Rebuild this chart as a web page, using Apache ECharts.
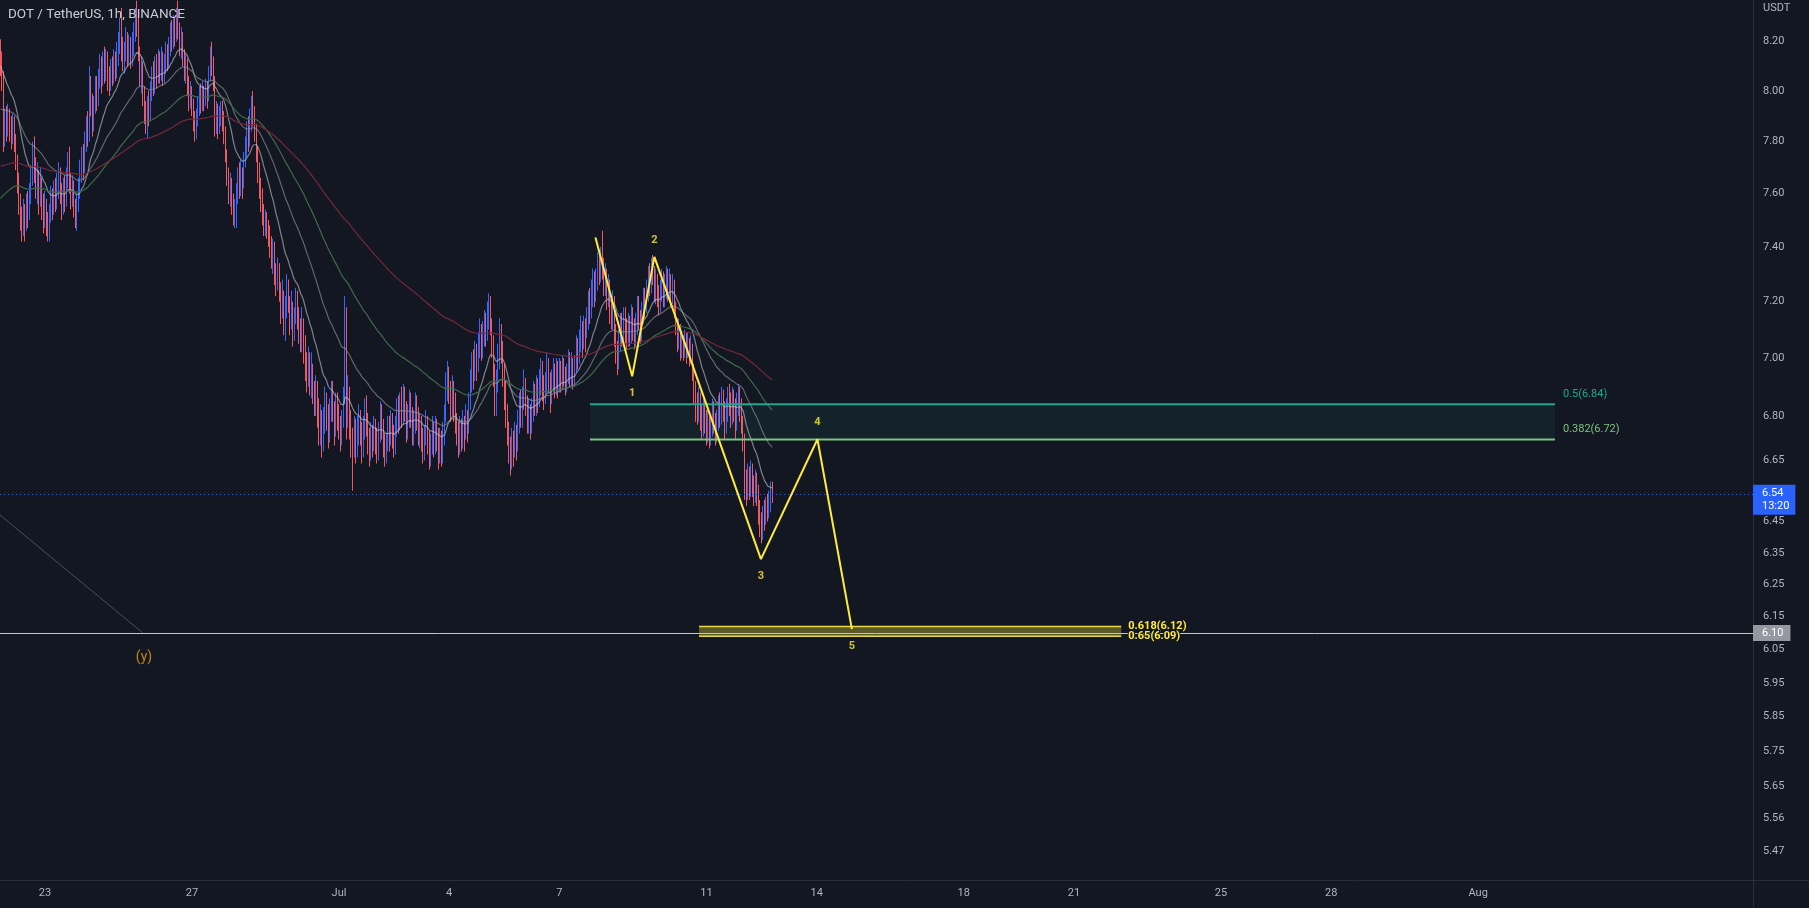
<!DOCTYPE html>
<html><head><meta charset="utf-8">
<script src="https://cdn.jsdelivr.net/npm/echarts@6/dist/echarts.min.js"></script>
<style>html,body{margin:0;padding:0;background:#131722;}#c{width:1809px;height:908px;}</style>
</head><body><div id="c"></div>
<script>
// ---------- DATA ----------
const firstTime = Date.UTC(2022, 5, 21, 19); // first hourly candle
const firstOpen = 8.14;
const closes = [
8.10,8.04,7.80,7.90,7.84,
7.90,7.86,7.82,7.88,7.80,7.72,7.66,7.58,7.50,7.47,7.53,7.48,7.56,7.52,7.60,7.66,7.74,7.70,7.62,7.66,7.58,7.64,7.55,7.50,
7.55,7.48,7.45,7.52,7.58,7.54,7.62,7.57,7.63,7.68,7.60,7.55,7.62,7.58,7.66,7.72,7.64,7.58,7.62,7.55,7.50,7.56,7.62,7.68,
7.74,7.70,7.80,7.86,7.82,8.04,7.96,7.88,7.94,8.02,7.97,8.05,8.10,8.04,8.12,8.08,8.14,8.06,8.02,8.10,8.06,8.13,8.08,8.15,
8.20,8.26,8.18,8.12,8.16,8.22,8.15,8.20,8.14,8.19,8.24,8.30,8.26,8.16,8.06,8.10,7.98,7.92,7.88,7.94,7.90,8.00,8.06,8.02,
8.10,8.06,8.12,8.08,8.14,8.06,8.11,8.17,8.12,8.18,8.24,8.20,8.27,8.22,8.30,8.25,8.18,8.22,8.14,8.08,8.12,8.02,7.96,8.00,
7.94,7.88,7.84,7.90,7.94,7.98,7.95,8.00,7.96,8.02,7.97,8.06,8.14,8.10,8.04,7.88,7.92,7.86,7.90,7.94,7.88,7.84,7.76,7.68,
7.60,7.64,7.56,7.50,7.54,7.60,7.66,7.62,7.68,7.64,7.72,7.78,7.84,7.80,7.88,7.94,7.90,7.84,7.76,7.70,7.62,7.58,7.52,7.48,
7.50,7.46,7.44,7.40,7.36,7.40,7.30,7.26,7.32,7.24,7.18,7.22,7.12,7.16,7.24,7.20,7.14,7.18,7.10,7.14,7.22,7.16,7.10,7.06,
7.12,7.04,6.98,6.94,7.00,6.92,6.96,6.88,6.84,6.90,6.82,6.76,6.80,6.72,6.78,6.86,6.80,6.74,6.82,6.88,6.82,6.76,6.84,6.80,
6.76,6.72,6.78,6.86,7.12,6.80,6.86,6.78,6.72,6.70,6.76,6.70,6.74,6.80,6.75,6.70,6.76,6.82,6.78,6.72,6.68,6.74,6.70,6.76,
6.72,6.68,6.74,6.80,6.76,6.71,6.66,6.70,6.76,6.72,6.78,6.74,6.70,6.76,6.82,6.78,6.84,6.80,6.86,6.82,6.76,6.80,6.85,6.80,
6.74,6.78,6.84,6.80,6.74,6.78,6.72,6.68,6.73,6.78,6.72,6.66,6.70,6.75,6.70,6.76,6.72,6.67,6.72,6.68,6.74,6.80,6.90,6.94,
6.88,6.84,6.90,6.84,6.78,6.74,6.70,6.76,6.72,6.78,6.74,6.80,6.76,6.84,6.92,6.98,6.94,7.02,6.97,7.04,7.10,7.04,7.08,7.14,
7.10,7.16,7.20,7.12,7.06,6.94,6.86,6.92,7.00,7.08,7.04,6.94,6.88,6.80,6.74,6.70,6.66,6.72,6.68,6.74,6.70,6.78,6.84,6.80,
6.86,6.92,6.84,6.78,6.82,6.76,6.82,6.88,6.84,6.90,6.86,6.92,6.96,6.90,6.86,6.92,6.98,6.92,6.86,6.92,6.96,6.90,6.96,6.92,
6.96,6.92,6.98,6.94,6.90,6.95,7.00,6.94,6.98,6.93,6.98,7.04,7.00,7.06,7.10,7.05,7.12,7.08,7.14,7.20,7.16,7.24,7.28,7.22,
7.28,7.34,7.30,7.36,7.32,7.26,7.30,7.22,7.26,7.18,7.14,7.20,7.10,7.02,6.98,7.06,7.12,7.08,7.14,7.10,7.06,7.12,7.08,7.14,
7.10,7.06,7.12,7.18,7.14,7.08,7.16,7.22,7.18,7.24,7.30,7.26,7.32,7.30,7.24,7.28,7.22,7.18,7.24,7.28,7.22,7.26,7.30,7.25,
7.28,7.22,7.26,7.18,7.12,7.06,7.10,7.02,7.06,7.02,7.06,7.02,7.05,7.00,7.04,6.96,6.88,6.84,6.80,6.86,6.80,6.76,6.82,6.78,
6.74,6.78,6.72,6.76,6.82,6.78,6.73,6.78,6.84,6.80,6.86,6.82,6.76,6.82,6.87,6.84,6.80,6.86,6.82,6.78,6.84,6.88,6.82,6.78,
6.72,6.58,6.54,6.60,6.56,6.61,6.57,6.53,6.58,6.54,6.48,6.44,6.42,6.47,6.45,6.50,6.48,6.52,6.56,6.54
];
const highs = [
8.21,8.16,8.08,7.93,7.94,
7.95,7.93,7.90,7.91,7.90,7.83,7.75,7.68,7.60,7.55,7.58,7.56,7.60,7.61,7.64,7.71,7.80,7.82,7.74,7.72,7.69,7.70,7.66,7.60,
7.61,7.58,7.53,7.56,7.63,7.62,7.65,7.66,7.68,7.72,7.70,7.64,7.66,7.67,7.70,7.76,7.78,7.68,7.67,7.65,7.58,7.60,7.66,7.73,
7.78,7.79,7.84,7.90,7.92,8.10,8.06,7.99,7.98,8.06,8.06,8.09,8.15,8.14,8.16,8.18,8.17,8.16,8.10,8.13,8.14,8.17,8.16,8.20,
8.24,8.30,8.34,8.22,8.20,8.26,8.24,8.23,8.22,8.24,8.28,8.34,8.37,8.30,8.18,8.14,8.12,8.02,7.96,7.98,8.00,8.04,8.10,8.12,
8.14,8.15,8.17,8.16,8.18,8.16,8.15,8.20,8.19,8.22,8.28,8.29,8.31,8.30,8.34,8.37,8.28,8.26,8.24,8.17,8.15,8.13,8.06,8.04,
8.02,7.97,7.92,7.93,7.98,8.02,8.03,8.04,8.02,8.05,8.04,8.10,8.18,8.20,8.14,8.06,7.96,7.95,7.94,7.96,7.96,7.92,7.86,7.77,
7.70,7.68,7.66,7.60,7.58,7.64,7.70,7.72,7.73,7.70,7.76,7.82,7.88,7.90,7.93,7.98,8.00,7.94,7.87,7.78,7.72,7.66,7.62,7.56,
7.54,7.53,7.50,7.48,7.44,7.43,7.42,7.34,7.36,7.34,7.27,7.28,7.24,7.22,7.30,7.28,7.22,7.24,7.20,7.18,7.25,7.24,7.18,7.14,
7.18,7.14,7.08,7.02,7.04,7.02,7.02,6.98,6.92,6.94,6.92,6.86,6.84,6.82,6.83,6.90,6.88,6.84,6.86,6.92,6.92,6.85,6.88,6.88,
6.84,6.80,6.82,6.90,7.22,7.18,6.94,6.90,6.82,6.76,6.80,6.79,6.80,6.84,6.82,6.78,6.80,6.86,6.87,6.81,6.76,6.78,6.77,6.80,
6.79,6.76,6.78,6.85,6.84,6.79,6.74,6.74,6.80,6.80,6.82,6.81,6.77,6.80,6.86,6.87,6.88,6.90,6.91,6.90,6.85,6.84,6.89,6.88,
6.83,6.82,6.88,6.87,6.83,6.81,6.80,6.76,6.77,6.82,6.80,6.75,6.74,6.80,6.78,6.80,6.79,6.76,6.76,6.75,6.78,6.84,6.95,6.99,
6.97,6.92,6.94,6.92,6.88,6.81,6.78,6.80,6.79,6.82,6.80,6.84,6.82,6.88,6.96,7.02,7.03,7.06,7.05,7.09,7.14,7.12,7.13,7.17,
7.16,7.20,7.23,7.22,7.14,7.08,6.98,6.96,7.05,7.14,7.12,7.06,6.98,6.92,6.84,6.78,6.73,6.76,6.75,6.78,6.77,6.82,6.88,6.89,
6.90,6.96,6.93,6.87,6.86,6.84,6.86,6.92,6.91,6.94,6.93,6.96,7.00,6.99,6.94,6.95,7.02,7.00,6.95,6.96,7.00,6.98,7.00,6.99,
7.00,6.99,7.01,7.00,6.97,6.98,7.03,7.02,7.02,7.00,7.01,7.08,7.07,7.10,7.15,7.13,7.15,7.14,7.18,7.24,7.25,7.28,7.32,7.31,
7.32,7.38,7.39,7.40,7.46,7.36,7.34,7.32,7.30,7.28,7.22,7.24,7.22,7.12,7.06,7.10,7.16,7.16,7.18,7.18,7.14,7.16,7.15,7.19,
7.18,7.14,7.16,7.22,7.22,7.17,7.20,7.25,7.25,7.28,7.33,7.34,7.36,7.37,7.33,7.32,7.30,7.26,7.28,7.32,7.31,7.30,7.33,7.32,
7.32,7.30,7.30,7.28,7.20,7.14,7.14,7.12,7.10,7.08,7.10,7.09,7.09,7.07,7.08,7.05,6.98,6.92,6.88,6.90,6.88,6.84,6.86,6.85,
6.82,6.82,6.80,6.80,6.86,6.85,6.81,6.82,6.87,6.88,6.90,6.89,6.85,6.86,6.90,6.91,6.88,6.90,6.89,6.86,6.88,6.91,6.90,6.86,
6.80,6.74,6.62,6.64,6.63,6.65,6.64,6.60,6.62,6.61,6.57,6.52,6.48,6.50,6.52,6.53,6.54,6.55,6.58,6.58
];
const lows = [
8.06,8.00,7.76,7.78,7.80,
7.82,7.80,7.77,7.79,7.76,7.69,7.60,7.52,7.46,7.42,7.44,7.42,7.46,7.47,7.50,7.56,7.63,7.64,7.58,7.56,7.52,7.55,7.50,7.45,
7.47,7.44,7.42,7.42,7.49,7.50,7.52,7.53,7.54,7.58,7.56,7.50,7.52,7.53,7.55,7.62,7.60,7.54,7.55,7.51,7.47,7.46,7.53,7.58,
7.64,7.65,7.68,7.76,7.78,7.80,7.90,7.82,7.84,7.91,7.92,7.94,8.01,7.99,8.02,8.03,8.04,8.00,7.98,8.00,8.02,8.03,8.04,8.05,
8.10,8.15,8.12,8.08,8.07,8.12,8.10,8.11,8.09,8.10,8.14,8.20,8.22,8.12,8.02,7.99,7.94,7.87,7.83,7.81,7.86,7.88,7.96,7.98,
7.99,8.01,8.03,8.03,8.04,8.02,8.03,8.07,8.08,8.09,8.14,8.16,8.17,8.18,8.20,8.21,8.14,8.13,8.10,8.04,8.03,7.98,7.92,7.93,
7.90,7.84,7.80,7.81,7.86,7.90,7.91,7.92,7.92,7.94,7.93,7.96,8.04,8.06,8.00,7.82,7.83,7.81,7.83,7.86,7.84,7.79,7.72,7.63,
7.56,7.55,7.52,7.48,7.47,7.47,7.56,7.58,7.59,7.58,7.62,7.70,7.74,7.76,7.78,7.84,7.86,7.80,7.72,7.64,7.58,7.53,7.48,7.44,
7.44,7.43,7.40,7.36,7.32,7.30,7.26,7.22,7.24,7.20,7.12,7.14,7.08,7.06,7.14,7.16,7.08,7.10,7.04,7.06,7.12,7.10,7.05,7.02,
7.02,6.98,6.92,6.88,6.90,6.87,6.86,6.84,6.80,6.80,6.76,6.70,6.70,6.66,6.68,6.74,6.75,6.69,6.71,6.78,6.78,6.70,6.73,6.75,
6.72,6.68,6.70,6.76,6.84,6.72,6.76,6.72,6.66,6.55,6.66,6.64,6.66,6.70,6.70,6.64,6.66,6.72,6.73,6.67,6.63,6.65,6.66,6.68,
6.67,6.64,6.65,6.71,6.72,6.66,6.63,6.64,6.68,6.68,6.70,6.69,6.66,6.67,6.73,6.74,6.75,6.76,6.77,6.78,6.71,6.72,6.76,6.76,
6.70,6.70,6.74,6.75,6.70,6.69,6.68,6.64,6.65,6.70,6.67,6.62,6.63,6.67,6.66,6.67,6.68,6.62,6.64,6.63,6.64,6.70,6.78,6.85,
6.84,6.78,6.80,6.78,6.74,6.70,6.66,6.67,6.68,6.69,6.68,6.72,6.71,6.74,6.82,6.88,6.89,6.92,6.92,6.95,7.00,6.99,7.00,7.04,
7.04,7.06,7.10,7.08,7.00,6.90,6.80,6.80,6.88,6.96,6.98,6.90,6.82,6.76,6.70,6.64,6.60,6.62,6.63,6.66,6.65,6.68,6.74,6.76,
6.76,6.82,6.80,6.74,6.74,6.72,6.74,6.78,6.80,6.80,6.81,6.83,6.87,6.85,6.82,6.84,6.88,6.88,6.81,6.84,6.88,6.86,6.87,6.86,
6.88,6.88,6.89,6.90,6.87,6.88,6.91,6.90,6.90,6.89,6.90,6.95,6.96,6.98,7.02,7.00,7.03,7.02,7.07,7.10,7.12,7.14,7.18,7.18,
7.20,7.24,7.26,7.27,7.28,7.22,7.22,7.17,7.18,7.12,7.10,7.10,7.04,6.98,6.94,6.96,7.02,7.04,7.04,7.05,7.03,7.04,7.04,7.05,
7.06,7.03,7.04,7.08,7.10,7.05,7.06,7.12,7.14,7.16,7.20,7.22,7.23,7.26,7.20,7.19,7.18,7.15,7.16,7.20,7.18,7.18,7.21,7.20,
7.20,7.18,7.19,7.14,7.08,7.02,7.03,6.99,7.00,6.99,7.00,6.98,7.00,6.97,6.98,6.92,6.84,6.78,6.77,6.78,6.75,6.72,6.73,6.74,
6.70,6.71,6.69,6.70,6.73,6.74,6.70,6.71,6.75,6.76,6.77,6.78,6.72,6.74,6.78,6.80,6.76,6.77,6.78,6.72,6.75,6.80,6.78,6.74,
6.68,6.52,6.50,6.52,6.52,6.53,6.53,6.50,6.51,6.50,6.44,6.40,6.38,6.39,6.42,6.44,6.45,6.46,6.48,6.51
];
// moving-average starting values read at the left edge of the chart
const maPeriods = [20, 50, 100, 200];
const maStartValues = [8.10, 7.92, 7.57, 7.70];
const maColors = ['rgba(200,203,210,0.6)', 'rgba(140,146,150,0.65)', '#3f6a4b', '#75283a'];

const xTickDays = [[5,23],[5,27],[6,1],[6,4],[6,7],[6,11],[6,14],[6,18],[6,21],[6,25],[6,28],[7,1]];
const yTickValues = [8.20,8.00,7.80,7.60,7.40,7.20,7.00,6.80,6.65,6.45,6.35,6.25,6.15,6.05,5.95,5.85,5.75,5.65,5.56,5.47];
const xRange = [Date.UTC(2022,5,21,18,37), Date.UTC(2022,7,8,11,31)];
const yRange = [5.391, 8.373];

// Elliott wave projection: [time, price, label]
const wavePoints = [
  [Date.UTC(2022,6,7,23,30), 7.435, ''],
  [Date.UTC(2022,6,8,23,30), 6.936, '1'],
  [Date.UTC(2022,6,9,14,0), 7.363, '2'],
  [Date.UTC(2022,6,12,11,35), 6.330, '3'],
  [Date.UTC(2022,6,14,0,30), 6.721, '4'],
  [Date.UTC(2022,6,14,23,0), 6.112, '5']
];
const waveLabelAbove = ['2', '4'];
const fibRetrace = {start: Date.UTC(2022,6,7,19,55), end: Date.UTC(2022,7,3,2,10),
  levels: [{ratio: '0.5', price: 6.84}, {ratio: '0.382', price: 6.72}]};
const fibTarget = {start: Date.UTC(2022,6,10,19,10), end: Date.UTC(2022,6,22,6,55),
  levels: [{ratio: '0.618', price: 6.12}, {ratio: '0.65', price: 6.09}]};
const trendLine = [[Date.UTC(2022,5,21,18,37), 6.471], [Date.UTC(2022,5,25,16,0), 6.100]];
const waveTag = [Date.UTC(2022,5,25,16,40), 6.025, '(y)'];
const horizontalLevel = 6.10;
const lastPrice = 6.54;
const countdown = '13:20';
const title = 'DOT / TetherUS, 1h, BINANCE';

// ---------- BUILD ----------
const HOUR = 3600000;
const times = closes.map((_, i) => firstTime + i * HOUR);
const candleData = closes.map((c, i) => {
  const o = i === 0 ? firstOpen : closes[i - 1];
  const h = Math.max(highs[i], o, c), l = Math.min(lows[i], o, c);
  return [times[i], o, c, l, h];
});
function ema(period, start) {
  const k = 2 / (period + 1); let v = start;
  return closes.map((c, i) => { v = v + k * (c - v); return [times[i], v]; });
}
const UP = '#3567ff', DOWN = '#f25a63', TXT = '#b2b5be';
const FONT = 'Roboto, "DejaVu Sans", sans-serif';
const MONTHS = ['Jan','Feb','Mar','Apr','May','Jun','Jul','Aug','Sep','Oct','Nov','Dec'];

const series = [];
series.push({
  type: 'candlestick', name: 'DOT', data: candleData, large: false,
  barWidth: 0.6, z: 3, silent: true,
  itemStyle: {color: UP, color0: DOWN, borderColor: UP, borderColor0: DOWN, borderWidth: 1},
  markLine: {
    silent: true, symbol: ['none', 'none'], animation: false,
    data: [
      {yAxis: horizontalLevel, lineStyle: {color: '#c3c6cd', width: 1, type: 'solid'},
       label: {show: true, position: 'end', distance: 0, formatter: horizontalLevel.toFixed(2),
         backgroundColor: '#9598a1', color: '#ffffff', fontSize: 11, fontFamily: FONT, padding: [3, 7, 2, 9]}},
      {yAxis: lastPrice, lineStyle: {color: '#2962ff', width: 1, type: [1, 3]},
       label: {show: true, position: 'end', distance: 0, offset: [0, 6], formatter: lastPrice.toFixed(2) + '\n' + countdown,
         backgroundColor: '#2962ff', color: '#ffffff', fontSize: 11, lineHeight: 13, fontFamily: FONT, padding: [2, 6, 2, 9]}}
    ]
  }
});
maPeriods.forEach((p, idx) => {
  series.push({type: 'line', name: 'EMA' + p, data: ema(p, maStartValues[idx]), showSymbol: false, symbol: 'none',
    silent: true, z: 4, lineStyle: {color: maColors[idx], width: 1.2}});
});
series.push({type: 'line', data: trendLine, symbol: 'none', silent: true, z: 2,
  lineStyle: {color: '#4b4f5b', width: 1}});
const fibColors = ['#22a68e', '#7cc47f'];
fibRetrace.levels.forEach((lv, idx) => {
  const s = {type: 'line', data: [[fibRetrace.start, lv.price], [fibRetrace.end, lv.price]], symbol: 'none', silent: true, z: 5,
    lineStyle: {color: fibColors[idx], width: 2},
    endLabel: {show: true, formatter: lv.ratio + '(' + lv.price.toFixed(2) + ')', color: fibColors[idx], fontSize: 11,
      fontFamily: FONT, distance: 8, offset: [0, -10]}};
  if (idx === 0) {
    s.markArea = {silent: true, itemStyle: {color: 'rgba(34,171,148,0.09)'},
      data: [[{coord: [fibRetrace.start, fibRetrace.levels[0].price]}, {coord: [fibRetrace.end, fibRetrace.levels[1].price]}]]};
  }
  series.push(s);
});
fibTarget.levels.forEach((lv, idx) => {
  const s = {type: 'line', data: [[fibTarget.start, lv.price], [fibTarget.end, lv.price]], symbol: 'none', silent: true, z: 5,
    lineStyle: {color: '#e9d84c', width: 1.5},
    endLabel: {show: true, formatter: lv.ratio + '(' + lv.price.toFixed(2) + ')', color: '#ffeb3b', fontSize: 11,
      fontWeight: 'bold', fontFamily: FONT, distance: 7, textBorderColor: '#131722', textBorderWidth: 2}};
  if (idx === 0) {
    s.markArea = {silent: true, itemStyle: {color: 'rgba(255,235,59,0.3)'},
      data: [[{coord: [fibTarget.start, fibTarget.levels[0].price]}, {coord: [fibTarget.end, fibTarget.levels[1].price]}]]};
  }
  series.push(s);
});
series.push({type: 'line', data: wavePoints.map(p => [p[0], p[1]]), symbol: 'none', silent: true, z: 8,
  lineStyle: {color: '#ffeb3b', width: 2}});
series.push({type: 'scatter', silent: true, z: 9, symbolSize: 1, itemStyle: {color: 'rgba(0,0,0,0)'},
  data: wavePoints.filter(p => p[2]).map(p => ({value: [p[0], p[1]],
    label: {show: true, formatter: p[2], position: waveLabelAbove.includes(p[2]) ? 'top' : 'bottom', distance: 11,
      color: '#ffeb3b', fontSize: 11, fontWeight: 'bold', fontFamily: FONT}}))});
series.push({type: 'scatter', silent: true, z: 9, symbolSize: 1, itemStyle: {color: 'rgba(0,0,0,0)'},
  data: [{value: [waveTag[0], waveTag[1]], label: {show: true, formatter: waveTag[2], position: 'inside',
    color: '#e8a317', fontSize: 14, fontFamily: FONT}}]});

function buildOption(useAxisLabels) {
  const yLabel = {color: TXT, fontSize: 11, margin: 10, fontFamily: FONT, formatter: v => Number(v).toFixed(2)};
  if (useAxisLabels) yLabel.customValues = yTickValues; else yLabel.show = false;
  const extra = [];
  if (!useAxisLabels) {
    extra.push({type: 'scatter', silent: true, symbolSize: 0, clip: false, z: 9,
      data: yTickValues.map(v => ({value: [xRange[1], v], label: {show: true, position: 'right', distance: 10,
        formatter: v.toFixed(2), color: TXT, fontSize: 11, fontFamily: FONT}}))});
  }
  return {
    backgroundColor: '#131722',
    animation: false,
    textStyle: {fontFamily: FONT},
    grid: {left: 0, right: 56, top: 0, bottom: 28, containLabel: false},
    xAxis: [{
      type: 'time', min: xRange[0], max: xRange[1],
      axisLine: {show: false}, axisTick: {show: false}, splitLine: {show: false}, axisLabel: {show: false}
    }, {
      type: 'value', min: xRange[0], max: xRange[1], position: 'bottom',
      axisLine: {show: false}, axisTick: {show: false}, splitLine: {show: false},
      axisLabel: {
        customValues: xTickDays.map(d => Date.UTC(2022, d[0], d[1])),
        color: TXT, fontSize: 11, margin: 8, fontFamily: FONT,
        formatter: v => { const d = new Date(v); return d.getUTCDate() === 1 ? MONTHS[d.getUTCMonth()] : String(d.getUTCDate()); }
      }
    }],
    yAxis: {
      type: 'log', logBase: 10, position: 'right', min: yRange[0], max: yRange[1],
      axisLine: {show: false}, axisTick: {show: false}, splitLine: {show: false},
      axisLabel: yLabel
    },
    graphic: [
      {type: 'line', shape: {x1: 1753.5, y1: 0, x2: 1753.5, y2: 908}, style: {stroke: '#2a2e39', lineWidth: 1}, z: 1},
      {type: 'line', shape: {x1: 0, y1: 880.5, x2: 1809, y2: 880.5}, style: {stroke: '#2a2e39', lineWidth: 1}, z: 1},
      {type: 'text', left: 8, top: 8, z: 20, style: {text: title, fill: '#c9ccd4', font: '13.5px ' + FONT}},
      {type: 'text', left: 1763, top: 3, z: 20, style: {text: 'USDT', fill: TXT, font: '11px ' + FONT}}
    ],
    series: series.concat(extra)
  };
}

let chart = echarts.init(document.getElementById('c'), null, {renderer: 'canvas'});
try {
  chart.setOption(buildOption(true));
} catch (e) {
  console.error('fallback: ' + e.message);
  chart.dispose();
  chart = echarts.init(document.getElementById('c'), null, {renderer: 'canvas'});
  chart.setOption(buildOption(false));
}
</script>
</body></html>
